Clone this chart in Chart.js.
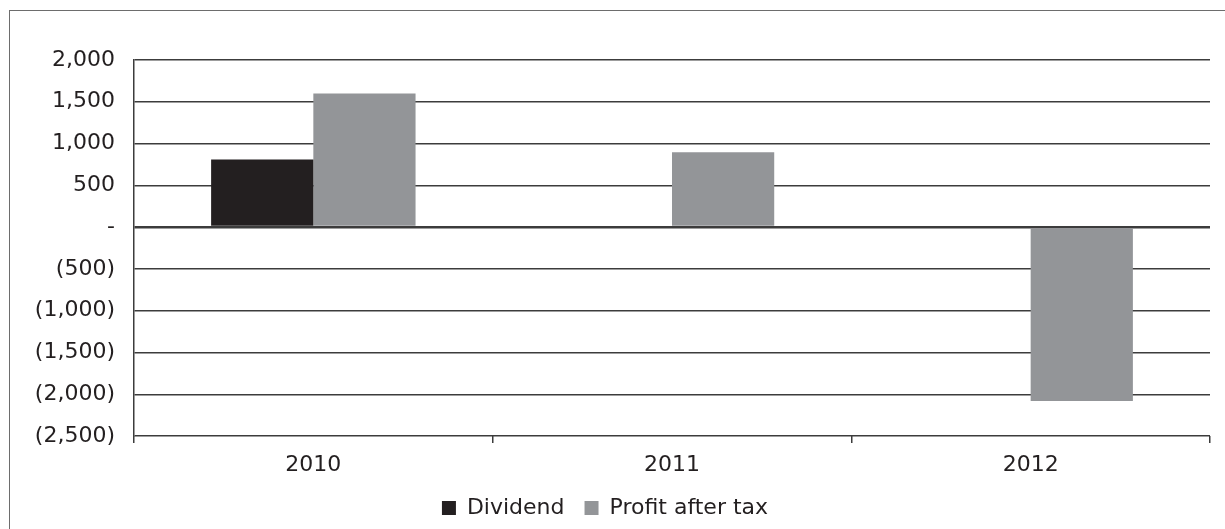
<!DOCTYPE html>
<html>
<head>
<meta charset="utf-8">
<script src="https://cdn.jsdelivr.net/npm/chart.js@4"></script>
<style>
    html, body { margin: 0; padding: 0; background: #fff; }
    #wrap { position: relative; width: 1225px; height: 529px; overflow: hidden; }
    #frame { position: absolute; left: 9px; top: 10px; width: 1240px; height: 540px; border: 1.5px solid #6d6d6d; box-sizing: border-box; }
    #chart { position: absolute; left: 0; top: 0; }
</style>
</head>
<body>
<div id="wrap">
    <div id="frame"></div>
    <canvas id="chart" width="1225" height="529"></canvas>
</div>
<script>
// Data
const years = ['2010', '2011', '2012'];
const dividend = [810, 0, 0];
const profitAfterTax = [1600, 895, -2080];
const yTicks = [2000, 1500, 1000, 500, 0, -500, -1000, -1500, -2000, -2500];

// Helpers
const formatTick = (value) => {
    if (value === 0) return '-';
    const text = Math.abs(value).toLocaleString('en-US');
    return value < 0 ? `(${text})` : text;
};

const FONT = '"DejaVu Sans", "Noto Sans", sans-serif';
const GRID = '#3c3c3c';

const ctx = document.getElementById('chart').getContext('2d');

// eslint-disable-next-line no-new
new Chart(ctx, {
    type: 'bar',
    data: {
        labels: years,
        datasets: [
            {
                label: 'Dividend',
                data: dividend,
                backgroundColor: '#231f20',
                borderWidth: 0,
            },
            {
                label: 'Profit after tax',
                data: profitAfterTax,
                backgroundColor: '#939598',
                borderWidth: 0,
            },
        ],
    },
    options: {
        responsive: false,
        animation: false,
        layout: {
            padding: { left: 0, right: 15, top: 60, bottom: 0 },
        },
        datasets: {
            bar: { categoryPercentage: 0.57, barPercentage: 1 },
        },
        plugins: {
            tooltip: { enabled: false },
            legend: {
                position: 'bottom',
                labels: {
                    color: '#231f20',
                    font: { family: FONT, size: 22 },
                    boxWidth: 14,
                    boxHeight: 14,
                    padding: 20,
                },
            },
        },
        scales: {
            x: {
                offset: true,
                grid: {
                    offset: true,
                    drawOnChartArea: true,
                    color: (c) => (c.index === years.length ? GRID : 'transparent'),
                    tickColor: GRID,
                    tickLength: 7,
                    lineWidth: 1.5,
                },
                border: { display: false },
                ticks: {
                    color: '#231f20',
                    font: { family: FONT, size: 22, lineHeight: 1 },
                    padding: 11,
                },
                afterFit: (scale) => { scale.height = 41; },
            },
            y: {
                min: -2500,
                max: 2000,
                afterBuildTicks: (scale) => {
                    scale.ticks = yTicks.map((value) => ({ value }));
                },
                grid: {
                    color: GRID,
                    lineWidth: (c) => (c.tick && c.tick.value === 0 ? 2.5 : 1.4),
                    drawTicks: false,
                },
                border: { display: true, color: GRID, width: 1.5 },
                ticks: {
                    color: '#231f20',
                    font: { family: FONT, size: 22 },
                    padding: 19,
                    callback: (value) => formatTick(value),
                },
                afterFit: (scale) => { scale.width = 134; },
            },
        },
    },
});
</script>
</body>
</html>
